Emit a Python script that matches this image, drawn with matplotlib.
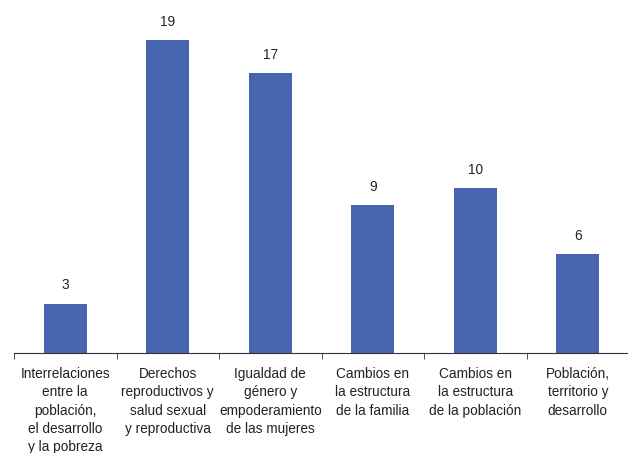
import matplotlib.pyplot as plt
import numpy as np

plt.rcParams['font.family'] = ['Liberation Sans', 'DejaVu Sans']

categories = ['Interrelaciones\nentre la\npoblación,\nel desarrollo\ny la pobreza',
              'Derechos\nreproductivos y\nsalud sexual\ny reproductiva',
              'Igualdad de\ngénero y\nempoderamiento\nde las mujeres',
              'Cambios en\nla estructura\nde la familia',
              'Cambios en\nla estructura\nde la población',
              'Población,\nterritorio y\ndesarrollo']
values = [3, 19, 17, 9, 10, 6]

fig = plt.figure(figsize=(6.28, 4.53), dpi=100)
ax = fig.add_axes([14/628, 1 - 353/453, 615/628, 353/453])

x = np.arange(len(values))
ax.bar(x, values, width=0.42, color='#4765AF')
for xi, v in zip(x, values):
    ax.annotate(str(v), (xi, v), xytext=(0, 8), textcoords='offset points',
                ha='center', va='bottom', fontsize=9.8, color='#222222')

ax.set_xlim(-0.5, 5.5)
ax.set_ylim(0, 21.43)
for s in ['top', 'right', 'left']:
    ax.spines[s].set_visible(False)
ax.spines['bottom'].set_color('#333333')
ax.set_yticks([])
ax.set_xticks(x)
ax.set_xticklabels(categories, fontsize=9.8, color='#222222', linespacing=1.4)
ax.tick_params(axis='x', which='major', length=0, pad=10)
ax.set_xticks(np.arange(-0.5, 6.0, 1.0), minor=True)
ax.tick_params(axis='x', which='minor', length=4, color='#333333')

fig.savefig('out.png', dpi=100)
